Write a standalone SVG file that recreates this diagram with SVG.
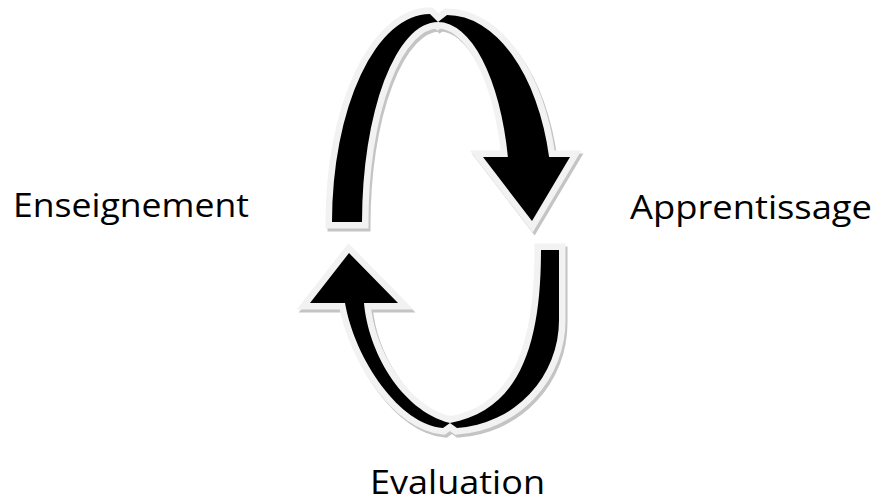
<svg xmlns="http://www.w3.org/2000/svg" width="879" height="504" viewBox="0 0 879 504">
<style>
.lbl{font-family:"Open Sans","Liberation Sans",Arial,sans-serif;font-size:33px;fill:#000}
.arr{fill:#000;stroke:#f2f2f2;stroke-width:13;paint-order:stroke;stroke-linejoin:miter}
.shd{fill:#c4c4c4;stroke:#c4c4c4;stroke-width:13;stroke-linejoin:miter}
</style>
<defs>
<path id="topArrow" d="M332,222 A98,208 0 0 1 430,14 L438,22 L447,15 A105,185 0 0 1 549.1,157 L570,157 L532,221 L483,157 L507.9,157 A72,178 0 0 0 438,22 A76,200 0 0 0 362,222 Z"/>
<path id="botArrow" d="M541,250 L559,250 L559,320 A109,108 0 0 1 457,428 L450,423 L443,428 C400,425 355,360 345,303 L310,303 L349,253 L398,303 L364,303 C368,350 400,410 450,423 C522,410 541,340 541,250 Z"/>
</defs>
<g id="connectors">
<g id="cycle-top">
<use href="#topArrow" class="shd" transform="translate(2,3)"/>
<use href="#topArrow" class="arr"/>
</g>
<g id="cycle-bottom">
<use href="#botArrow" class="shd" transform="translate(2,3)"/>
<use href="#botArrow" class="arr"/>
</g>
</g>
<g id="node-enseignement"><text class="lbl" x="13" y="217" textLength="236" lengthAdjust="spacingAndGlyphs">Enseignement</text></g>
<g id="node-apprentissage"><text class="lbl" x="630" y="219" textLength="242" lengthAdjust="spacingAndGlyphs">Apprentissage</text></g>
<g id="node-evaluation"><text class="lbl" x="370" y="494" font-size="32" textLength="175" lengthAdjust="spacingAndGlyphs">Evaluation</text></g>
</svg>
